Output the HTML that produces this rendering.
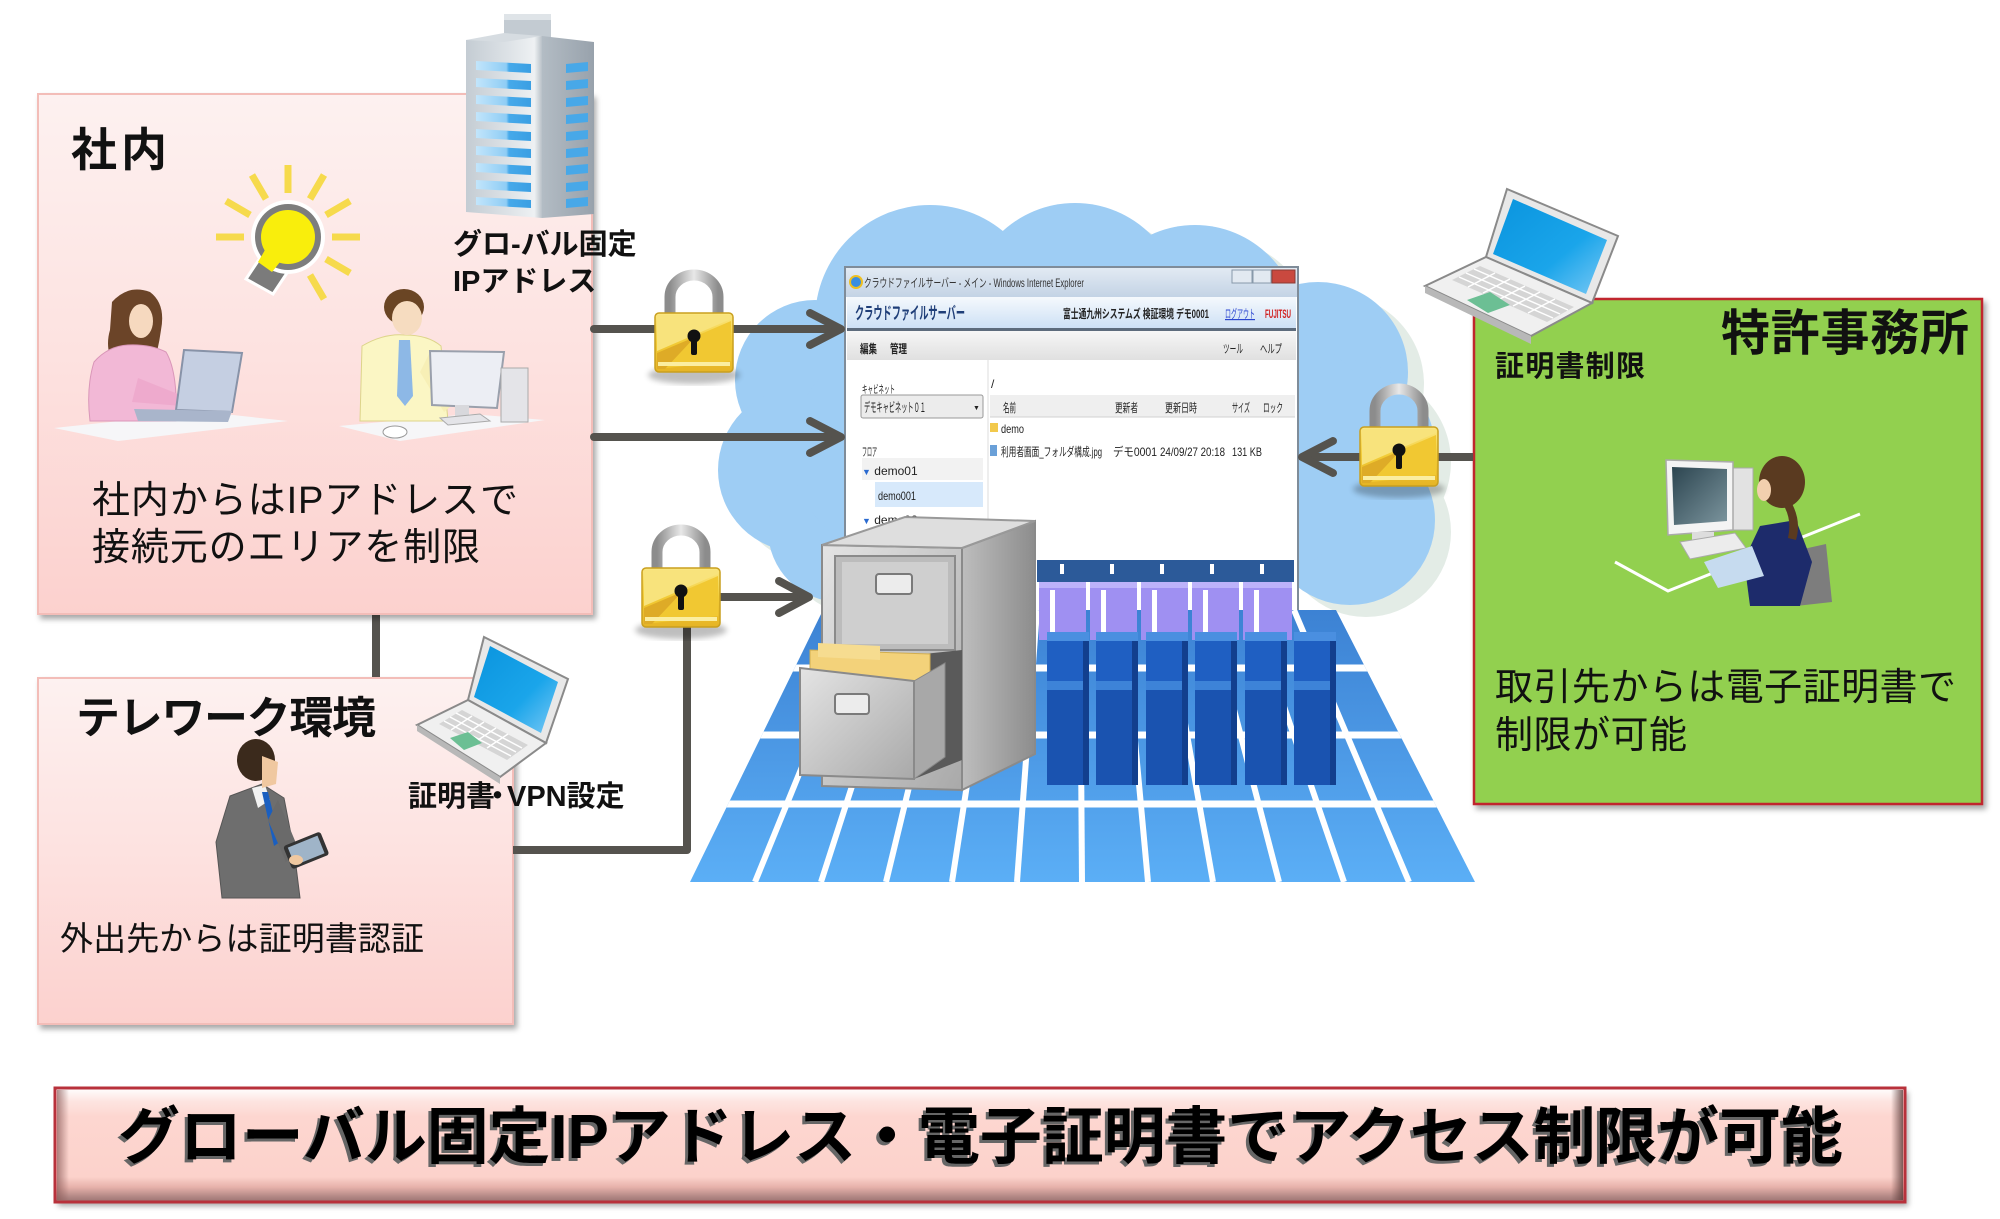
<!DOCTYPE html>
<html><head><meta charset="utf-8"><style>html,body{margin:0;padding:0;background:#fff}svg{display:block}</style></head>
<body>
<svg xmlns="http://www.w3.org/2000/svg" width="2000" height="1219" viewBox="0 0 2000 1219" font-family="'Liberation Sans','Noto Sans CJK JP',sans-serif">
<defs>
<linearGradient id="pink" x1="0" y1="0" x2="0" y2="1"><stop offset="0" stop-color="#fdf1f0"/><stop offset="0.5" stop-color="#fde2e0"/><stop offset="1" stop-color="#fcd1ce"/></linearGradient>
<filter id="sh" x="-5%" y="-5%" width="115%" height="115%"><feDropShadow dx="3" dy="4" stdDeviation="3" flood-color="#000" flood-opacity="0.35"/></filter>
<filter id="blur2"><feGaussianBlur stdDeviation="3"/></filter>
<linearGradient id="lockG" x1="0" y1="0" x2="0" y2="1"><stop offset="0" stop-color="#fbe884"/><stop offset="0.5" stop-color="#f2cb36"/><stop offset="1" stop-color="#e6b425"/></linearGradient>
<linearGradient id="shk" x1="0" y1="0" x2="1" y2="0"><stop offset="0" stop-color="#8c8c8c"/><stop offset="0.5" stop-color="#e8e8e8"/><stop offset="1" stop-color="#8c8c8c"/></linearGradient>
<linearGradient id="bldL" x1="0" y1="0" x2="1" y2="0"><stop offset="0" stop-color="#c4ccd3"/><stop offset="0.6" stop-color="#dfe4e8"/><stop offset="0.9" stop-color="#eef1f3"/><stop offset="1" stop-color="#b9c1c8"/></linearGradient>
<linearGradient id="bldR" x1="0" y1="0" x2="1" y2="0"><stop offset="0" stop-color="#b3bcc4"/><stop offset="1" stop-color="#98a2ac"/></linearGradient>
<linearGradient id="winG" x1="0" y1="0" x2="1" y2="0"><stop offset="0" stop-color="#c2e5fb"/><stop offset="0.55" stop-color="#8fcdf5"/><stop offset="0.6" stop-color="#46a9ea"/><stop offset="1" stop-color="#3a9fe3"/></linearGradient>
<linearGradient id="scr" x1="0" y1="0" x2="1" y2="1"><stop offset="0" stop-color="#0a94de"/><stop offset="0.6" stop-color="#1aa5ea"/><stop offset="1" stop-color="#7cc9f5"/></linearGradient>
<linearGradient id="titleG" x1="0" y1="0" x2="0" y2="1"><stop offset="0" stop-color="#e2eaf3"/><stop offset="1" stop-color="#c3d3e5"/></linearGradient>
<linearGradient id="hdrG" x1="0" y1="0" x2="0" y2="1"><stop offset="0" stop-color="#f5f9fd"/><stop offset="1" stop-color="#cde0f5"/></linearGradient>
<linearGradient id="menuG" x1="0" y1="0" x2="0" y2="1"><stop offset="0" stop-color="#f6f6f6"/><stop offset="1" stop-color="#e0e0e0"/></linearGradient>
<linearGradient id="floorG" x1="0" y1="0" x2="0" y2="1"><stop offset="0" stop-color="#3b80d2"/><stop offset="1" stop-color="#5cb0f7"/></linearGradient>
<linearGradient id="cabF" x1="0" y1="0" x2="1" y2="1"><stop offset="0" stop-color="#e4e4e4"/><stop offset="1" stop-color="#a9a9a9"/></linearGradient>
<linearGradient id="cabS" x1="0" y1="0" x2="1" y2="0"><stop offset="0" stop-color="#bdbdbd"/><stop offset="1" stop-color="#8d8d8d"/></linearGradient>
<linearGradient id="bnr" x1="0" y1="0" x2="0" y2="1"><stop offset="0" stop-color="#ffffff"/><stop offset="0.12" stop-color="#fde4e0"/><stop offset="0.25" stop-color="#fdd6d0"/><stop offset="0.78" stop-color="#fcd2cb"/><stop offset="0.87" stop-color="#e6b1aa"/><stop offset="0.95" stop-color="#b48986"/><stop offset="1" stop-color="#9a7270"/></linearGradient>
<linearGradient id="bnrL" x1="0" y1="0" x2="1" y2="0"><stop offset="0" stop-color="#8a5a58" stop-opacity="0.7"/><stop offset="1" stop-color="#8a5a58" stop-opacity="0"/></linearGradient>
<linearGradient id="bnrR" x1="1" y1="0" x2="0" y2="0"><stop offset="0" stop-color="#5a3a38" stop-opacity="0.8"/><stop offset="1" stop-color="#5a3a38" stop-opacity="0"/></linearGradient>
<linearGradient id="monG" x1="0" y1="0" x2="1" y2="1"><stop offset="0" stop-color="#2c4550"/><stop offset="1" stop-color="#7c959e"/></linearGradient>
<clipPath id="floorClip"><polygon points="823,610 1336,610 1475,882 690,882"/></clipPath>
<g id="lock">
<ellipse cx="39" cy="62" rx="46" ry="9" fill="#000" opacity="0.25" filter="url(#blur2)"/>
<path d="M15,4 V-16 A24,22 0 0 1 63,-16 V4" fill="none" stroke="url(#shk)" stroke-width="11"/>
<rect x="0" y="0" width="78" height="59" rx="4" fill="url(#lockG)" stroke="#c99f1e" stroke-width="1.5"/>
<polygon points="2,2 76,2 76,6 2,38" fill="#f8e37c"/>
<polygon points="2,40 76,8 76,48 2,56" fill="#f1c832"/>
<polygon points="2,40 40,24 10,56 2,56" fill="#deab27"/>
<rect x="3" y="49" width="72" height="4" fill="#fbeea0"/>
<circle cx="39" cy="23" r="6.5" fill="#111"/>
<rect x="36" y="25" width="6" height="17" rx="2" fill="#111"/>
</g>
<g id="cloudShape">
<circle cx="930" cy="320" r="115"/><circle cx="1075" cy="310" r="107"/><circle cx="1195" cy="330" r="105"/><circle cx="1318" cy="372" r="90"/><circle cx="1345" cy="450" r="90"/><circle cx="1350" cy="520" r="85"/><circle cx="815" cy="380" r="80"/><circle cx="800" cy="470" r="82"/><circle cx="840" cy="530" r="72"/><ellipse cx="1090" cy="450" rx="300" ry="165"/>
</g>
</defs>

<!-- vertical connector between boxes -->
<path d="M376,610 V682" stroke="#55534e" stroke-width="8" fill="none"/>

<!-- 社内 box -->
<rect x="38" y="94" width="554" height="520" fill="url(#pink)" stroke="#f3bdb8" stroke-width="2" filter="url(#sh)"/>
<!-- テレワーク box -->
<rect x="38" y="678" width="475" height="346" fill="url(#pink)" stroke="#f3bdb8" stroke-width="2" filter="url(#sh)"/>
<!-- 特許事務所 box -->
<rect x="1474" y="299" width="508" height="505" fill="#92d050" stroke="#c0272d" stroke-width="2.5" filter="url(#sh)"/>

<!-- building -->
<g>
<rect x="504" y="14" width="47" height="28" fill="#c3cbd2"/>
<rect x="504" y="14" width="47" height="6" fill="#dfe4e8"/>
<polygon points="466,40 542,36 542,218 466,212" fill="url(#bldL)"/>
<polygon points="542,36 594,42 594,214 542,218" fill="url(#bldR)"/>
<polygon points="466,40 504,33 542,36 504,42" fill="#d6dce1"/>
<g fill="url(#winG)">
<polygon points="476,61 531,64 531,73 476,70"/><polygon points="476,78 531,81 531,90 476,87"/><polygon points="476,95 531,98 531,107 476,104"/><polygon points="476,112 531,115 531,124 476,121"/><polygon points="476,129 531,132 531,141 476,138"/><polygon points="476,146 531,149 531,158 476,155"/><polygon points="476,163 531,166 531,175 476,172"/><polygon points="476,180 531,183 531,192 476,189"/><polygon points="476,197 531,200 531,208 476,205"/>
</g>
<g fill="#48a8e8">
<polygon points="566,64 588,62 588,71 566,73"/><polygon points="566,81 588,79 588,88 566,90"/><polygon points="566,98 588,96 588,105 566,107"/><polygon points="566,115 588,113 588,122 566,124"/><polygon points="566,132 588,130 588,139 566,141"/><polygon points="566,149 588,147 588,156 566,158"/><polygon points="566,166 588,164 588,173 566,175"/><polygon points="566,183 588,181 588,190 566,192"/><polygon points="566,199 588,197 588,206 566,208"/>
</g>
</g>

<!-- light bulb -->
<g stroke="#f6da4c" stroke-width="7" stroke-linecap="butt">
<line x1="288" y1="193" x2="288" y2="165"/><line x1="310" y1="199" x2="324" y2="175"/><line x1="326" y1="215" x2="350" y2="201"/><line x1="332" y1="237" x2="360" y2="237"/><line x1="326" y1="259" x2="350" y2="273"/><line x1="310" y1="275" x2="324" y2="299"/><line x1="266" y1="199" x2="252" y2="175"/><line x1="250" y1="215" x2="226" y2="201"/><line x1="244" y1="237" x2="216" y2="237"/>
</g>
<polygon points="246,279 262,255 289,270 273,294" fill="#7b7b7b" stroke="#fff" stroke-width="3"/>
<circle cx="288" cy="237" r="37" fill="#fff"/>
<circle cx="288" cy="237" r="33" fill="#7d7d7d"/>
<circle cx="288" cy="237" r="27" fill="#f9ee0c"/>
<polygon points="265,250 280,262 272,272 258,262" fill="#f9ee0c"/>

<!-- woman left -->
<g>
<polygon points="54,428 205,412 288,421 118,441" fill="#f6f6f8"/>
<path d="M112,302 Q128,284 150,292 Q166,304 161,330 Q158,352 152,368 L116,370 Q104,350 110,330 Z" fill="#6b4428"/>
<ellipse cx="141" cy="321" rx="12" ry="17" fill="#f6d9bf"/>
<path d="M94,362 Q108,346 128,345 Q150,344 166,352 Q178,372 176,421 L90,421 Q86,388 94,362 Z" fill="#f2b8d6" stroke="#d996b8" stroke-width="1"/>
<path d="M138,378 L178,394 L182,406 L132,402 Z" fill="#eeaacd"/>
<polygon points="184,350 242,353 232,412 176,410" fill="#c5cfe2" stroke="#8893a8" stroke-width="2"/>
<polygon points="134,409 232,411 228,422 138,421" fill="#a9b5cb"/>
</g>
<!-- man left -->
<g>
<polygon points="339,426 470,414 545,420 400,441" fill="#f6f6f8"/>
<ellipse cx="395" cy="432" rx="12" ry="6" fill="#fff" stroke="#999"/>
<path d="M362,346 Q384,333 405,335 Q428,335 441,346 L448,421 L360,421 Z" fill="#fbf6c4" stroke="#ddd48a" stroke-width="1"/>
<polygon points="399,340 410,340 413,396 405,406 397,396" fill="#8db8e6"/>
<ellipse cx="404" cy="307" rx="20" ry="18" fill="#6a4524"/>
<ellipse cx="407" cy="318" rx="15" ry="17" fill="#f6dcc0"/>
<path d="M430,352 L458,400 L444,412 L420,372 Z" fill="#f7efb6"/>
<polygon points="430,351 504,352 497,408 432,405" fill="#eceef4" stroke="#9aa0ac" stroke-width="2"/>
<rect x="455" y="405" width="14" height="12" fill="#d8d8dc"/>
<polygon points="440,418 480,414 490,421 448,425" fill="#e4e4e8" stroke="#aaa"/>
<rect x="501" y="368" width="27" height="54" fill="#e4e4e8" stroke="#aaa"/>
</g>

<!-- telework laptop -->
<g>
<polygon points="484,637 568,679 546,743 468,700" fill="#e8e8e8" stroke="#8a8a8a" stroke-width="2"/>
<polygon points="490,646 558,682 541,733 474,697" fill="url(#scr)"/>
<polygon points="468,700 546,743 500,777 417,725" fill="#f0f0f0" stroke="#8a8a8a" stroke-width="2"/>
<polygon points="417,725 500,777 500,784 417,731" fill="#b8b8b8"/>
<polygon points="462,710 528,745 507,760 439,724" fill="#d5d5d5"/>
<g stroke="#fff" stroke-width="1.5"><line x1="456" y1="713" x2="522" y2="748"/><line x1="450" y1="717" x2="516" y2="752"/><line x1="444" y1="721" x2="511" y2="756"/><line x1="472" y1="716" x2="451" y2="730"/><line x1="484" y1="722" x2="463" y2="736"/><line x1="496" y1="728" x2="475" y2="742"/><line x1="508" y1="734" x2="487" y2="748"/></g>
<polygon points="450,738 468,732 482,743 464,750" fill="#6cbf94"/>
</g>
<!-- right laptop -->
<g>
<polygon points="1507,189 1618,236 1592,303 1486,257" fill="#e8e8e8" stroke="#8a8a8a" stroke-width="2"/>
<polygon points="1513,199 1607,240 1586,294 1493,254" fill="url(#scr)"/>
<polygon points="1486,257 1592,303 1531,336 1425,286" fill="#f0f0f0" stroke="#8a8a8a" stroke-width="2"/>
<polygon points="1425,286 1531,336 1531,344 1425,293" fill="#b8b8b8"/>
<polygon points="1480,266 1574,307 1547,322 1452,280" fill="#d5d5d5"/>
<g stroke="#fff" stroke-width="1.5"><line x1="1474" y1="269" x2="1568" y2="310"/><line x1="1466" y1="273" x2="1560" y2="314"/><line x1="1459" y1="277" x2="1553" y2="318"/><line x1="1495" y1="273" x2="1468" y2="287"/><line x1="1510" y1="279" x2="1483" y2="293"/><line x1="1525" y1="286" x2="1498" y2="300"/><line x1="1540" y1="292" x2="1513" y2="306"/><line x1="1555" y1="299" x2="1528" y2="313"/></g>
<polygon points="1467,300 1490,292 1510,305 1488,313" fill="#6cbf94"/>
</g>

<!-- businessman with tablet -->
<g>
<path d="M230,796 L262,784 L284,798 L294,850 L300,898 L222,898 L216,842 Z" fill="#6e6e6e" stroke="#555" stroke-width="1"/>
<polygon points="252,788 265,785 270,800 258,808" fill="#f2f2f2"/>
<polygon points="262,792 268,792 280,842 274,846" fill="#1a5fc0"/>
<path d="M278,800 L298,848 L286,862 L268,820 Z" fill="#6a6a6a"/>
<ellipse cx="256" cy="760" rx="19" ry="21" fill="#3b2a1c"/>
<polygon points="262,756 278,762 276,784 262,788" fill="#f0c8a0"/>
<g transform="rotate(-22 306 850)"><rect x="286" y="838" width="40" height="25" rx="3" fill="#333"/><rect x="290" y="841" width="32" height="19" fill="#9fb4c8"/></g>
<ellipse cx="296" cy="860" rx="7" ry="5" fill="#f0c8a0"/>
</g>

<!-- woman at PC (right) -->
<g>
<polyline points="1615,562 1668,591 1860,514" fill="none" stroke="#fff" stroke-width="3"/>
<rect x="1733" y="468" width="20" height="62" fill="#e2e2e2" stroke="#aaa"/>
<polygon points="1666,460 1733,462 1733,530 1668,535" fill="#f4f4f4" stroke="#aaa" stroke-width="1.5"/>
<polygon points="1672,467 1727,469 1727,521 1674,525" fill="url(#monG)"/>
<rect x="1692" y="532" width="22" height="10" fill="#ddd"/>
<polygon points="1680,542 1735,533 1746,548 1690,559" fill="#ececec" stroke="#aaa"/>
<polygon points="1790,552 1826,544 1832,602 1796,606" fill="#7d7d7d"/>
<polygon points="1760,526 1796,520 1812,562 1800,606 1750,606 1744,560" fill="#1d2b6b"/>
<polygon points="1704,562 1752,546 1764,576 1718,588" fill="#c6dbef"/>
<ellipse cx="1782" cy="482" rx="23" ry="26" fill="#5a3a20"/>
<path d="M1790,500 Q1802,520 1796,540 L1788,538 Q1792,520 1784,506 Z" fill="#5a3a20"/>
<ellipse cx="1764" cy="490" rx="7" ry="11" fill="#f2cfae"/>
</g>

<!-- cloud -->
<use href="#cloudShape" fill="#e3ece6" transform="translate(16,12)"/>
<use href="#cloudShape" fill="#9ecdf4"/>

<!-- browser window -->
<g font-size="12" fill="#222">
<rect x="845" y="267" width="453" height="348" fill="#fff" stroke="#7f8c99" stroke-width="2"/>
<rect x="846" y="268" width="451" height="29" fill="url(#titleG)"/>
<circle cx="856" cy="282" r="6" fill="#3a8ee0" stroke="#f0c020" stroke-width="2"/>
<text x="864" y="287" font-size="12" fill="#333" textLength="220" lengthAdjust="spacingAndGlyphs">クラウドファイルサーバー - メイン - Windows Internet Explorer</text>
<rect x="1232" y="270" width="20" height="13" fill="#e2e9f1" stroke="#8899aa"/>
<rect x="1253" y="270" width="18" height="13" fill="#e2e9f1" stroke="#8899aa"/>
<rect x="1272" y="270" width="23" height="13" fill="#c9493f" stroke="#8a3a33"/>
<rect x="847" y="297" width="449" height="31" fill="url(#hdrG)"/>
<text x="855" y="319" font-size="17" font-weight="bold" fill="#1f3e78" textLength="110" lengthAdjust="spacingAndGlyphs">クラウドファイルサーバー</text>
<text x="1063" y="318" font-size="12" font-weight="bold" fill="#222" textLength="146" lengthAdjust="spacingAndGlyphs">富士通九州システムズ 検証環境 デモ0001</text>
<text x="1225" y="318" font-size="12" fill="#2a45d0" text-decoration="underline" textLength="30" lengthAdjust="spacingAndGlyphs">ログアウト</text>
<text x="1265" y="318" font-size="12" font-weight="bold" fill="#d02020" textLength="26" lengthAdjust="spacingAndGlyphs">FUJITSU</text>
<rect x="847" y="328" width="449" height="3" fill="#5d6b7c"/>
<rect x="847" y="331" width="449" height="29" fill="url(#menuG)"/>
<text x="860" y="353" font-weight="bold" textLength="17" lengthAdjust="spacingAndGlyphs">編集</text>
<text x="890" y="353" font-weight="bold" textLength="17" lengthAdjust="spacingAndGlyphs">管理</text>
<text x="1223" y="353" textLength="20" lengthAdjust="spacingAndGlyphs">ツール</text>
<text x="1260" y="353" textLength="22" lengthAdjust="spacingAndGlyphs">ヘルプ</text>
<line x1="988" y1="360" x2="988" y2="615" stroke="#dcdcdc"/>
<text x="862" y="393" font-size="11" textLength="33" lengthAdjust="spacingAndGlyphs">キャビネット</text>
<rect x="861" y="395" width="122" height="23" rx="2" fill="#ececec" stroke="#999"/>
<text x="864" y="412" font-size="13" textLength="62" lengthAdjust="spacingAndGlyphs">デモキャビネット０１</text>
<text x="973" y="410" font-size="7">▼</text>
<text x="862" y="456" textLength="15" lengthAdjust="spacingAndGlyphs">フロア</text>
<rect x="862" y="458" width="121" height="22" fill="#f2f2f2"/>
<text x="862" y="475"><tspan fill="#2a6ad0" font-size="9">▼</tspan> <tspan>demo01</tspan></text>
<rect x="875" y="482" width="108" height="25" fill="#d7e9fb"/>
<text x="878" y="500" textLength="38" lengthAdjust="spacingAndGlyphs">demo001</text>
<text x="862" y="524"><tspan fill="#2a6ad0" font-size="9">▼</tspan> demo02</text>
<text x="991" y="388">/</text>
<rect x="990" y="395" width="305" height="22" fill="#efefef"/>
<line x1="990" y1="417" x2="1295" y2="417" stroke="#d0d0d0"/>
<text x="1003" y="412" textLength="13" lengthAdjust="spacingAndGlyphs">名前</text>
<text x="1115" y="412" textLength="23" lengthAdjust="spacingAndGlyphs">更新者</text>
<text x="1165" y="412" textLength="32" lengthAdjust="spacingAndGlyphs">更新日時</text>
<text x="1232" y="412" textLength="18" lengthAdjust="spacingAndGlyphs">サイズ</text>
<text x="1263" y="412" textLength="20" lengthAdjust="spacingAndGlyphs">ロック</text>
<rect x="990" y="423" width="8" height="9" fill="#f2c94c"/>
<text x="1001" y="433" textLength="23" lengthAdjust="spacingAndGlyphs">demo</text>
<rect x="990" y="445" width="7" height="11" fill="#6aa0d8"/>
<text x="1001" y="456" textLength="101" lengthAdjust="spacingAndGlyphs">利用者画面_フォルダ構成.jpg</text>
<text x="1113" y="456" textLength="44" lengthAdjust="spacingAndGlyphs">デモ0001</text>
<text x="1160" y="456" textLength="65" lengthAdjust="spacingAndGlyphs">24/09/27 20:18</text>
<text x="1232" y="456" textLength="30" lengthAdjust="spacingAndGlyphs">131 KB</text>
</g>

<!-- floor -->
<g clip-path="url(#floorClip)">
<rect x="680" y="600" width="810" height="290" fill="url(#floorG)"/>
<g stroke="#fff" stroke-width="7">
<line x1="680" y1="804" x2="1490" y2="804"/><line x1="680" y1="735" x2="1490" y2="735"/><line x1="680" y1="668" x2="1490" y2="668"/>
</g>
<g stroke="#fff" stroke-width="6">
<line x1="866" y1="610" x2="755" y2="882"/><line x1="909" y1="610" x2="821" y2="882"/><line x1="952" y1="610" x2="886" y2="882"/><line x1="994" y1="610" x2="952" y2="882"/><line x1="1037" y1="610" x2="1017" y2="882"/><line x1="1080" y1="610" x2="1082" y2="882"/><line x1="1123" y1="610" x2="1148" y2="882"/><line x1="1165" y1="610" x2="1213" y2="882"/><line x1="1208" y1="610" x2="1279" y2="882"/><line x1="1251" y1="610" x2="1344" y2="882"/><line x1="1294" y1="610" x2="1409" y2="882"/>
</g>
</g>

<!-- racks back (purple) -->
<g>
<rect x="1037" y="560" width="257" height="22" fill="#2c5a99"/>
<g fill="#fff"><rect x="1060" y="564" width="4" height="10"/><rect x="1110" y="564" width="4" height="10"/><rect x="1160" y="564" width="4" height="10"/><rect x="1210" y="564" width="4" height="10"/><rect x="1260" y="564" width="4" height="10"/></g>
<g fill="#9f90f2"><rect x="1039" y="582" width="47" height="58"/><rect x="1090" y="582" width="47" height="58"/><rect x="1141" y="582" width="47" height="58"/><rect x="1192" y="582" width="47" height="58"/><rect x="1243" y="582" width="49" height="58"/></g>
<g fill="#bdb2fa"><rect x="1039" y="582" width="47" height="6"/><rect x="1090" y="582" width="47" height="6"/><rect x="1141" y="582" width="47" height="6"/><rect x="1192" y="582" width="47" height="6"/><rect x="1243" y="582" width="49" height="6"/></g>
<g fill="#fff"><rect x="1050" y="590" width="5" height="42"/><rect x="1101" y="590" width="5" height="42"/><rect x="1152" y="590" width="5" height="42"/><rect x="1203" y="590" width="5" height="42"/><rect x="1254" y="590" width="5" height="42"/></g>
</g>
<!-- blue racks -->
<g>
<g fill="#1f5fc2"><rect x="1047" y="640" width="42" height="105"/><rect x="1096" y="640" width="42" height="105"/><rect x="1146" y="640" width="42" height="105"/><rect x="1195" y="640" width="42" height="105"/><rect x="1245" y="640" width="42" height="105"/><rect x="1294" y="640" width="42" height="105"/></g>
<g fill="#4a8fe0"><rect x="1047" y="632" width="42" height="9"/><rect x="1096" y="632" width="42" height="9"/><rect x="1146" y="632" width="42" height="9"/><rect x="1195" y="632" width="42" height="9"/><rect x="1245" y="632" width="42" height="9"/><rect x="1294" y="632" width="42" height="9"/></g>
<g fill="#1a53b0"><rect x="1047" y="689" width="42" height="96"/><rect x="1096" y="689" width="42" height="96"/><rect x="1146" y="689" width="42" height="96"/><rect x="1195" y="689" width="42" height="96"/><rect x="1245" y="689" width="42" height="96"/><rect x="1294" y="689" width="42" height="96"/></g>
<g fill="#3d83d8"><rect x="1047" y="681" width="42" height="9"/><rect x="1096" y="681" width="42" height="9"/><rect x="1146" y="681" width="42" height="9"/><rect x="1195" y="681" width="42" height="9"/><rect x="1245" y="681" width="42" height="9"/><rect x="1294" y="681" width="42" height="9"/></g>
<g fill="#123f8e"><rect x="1083" y="641" width="6" height="144"/><rect x="1132" y="641" width="6" height="144"/><rect x="1182" y="641" width="6" height="144"/><rect x="1231" y="641" width="6" height="144"/><rect x="1281" y="641" width="6" height="144"/><rect x="1330" y="641" width="6" height="144"/></g>
</g>

<!-- file cabinet -->
<g>
<polygon points="822,545 962,548 962,790 822,786" fill="url(#cabF)" stroke="#8a8a8a" stroke-width="2"/>
<polygon points="962,548 1035,521 1035,754 962,790" fill="url(#cabS)" stroke="#8a8a8a" stroke-width="2"/>
<polygon points="822,545 905,517 1035,521 962,548" fill="#dedede" stroke="#999" stroke-width="2"/>
<rect x="835" y="556" width="120" height="94" fill="#bcbcbc" stroke="#8a8a8a" stroke-width="2"/>
<rect x="842" y="562" width="106" height="82" fill="#cfcfcf"/>
<rect x="876" y="574" width="36" height="20" rx="3" fill="#ececec" stroke="#7a7a7a" stroke-width="2"/>
<polygon points="914,655 962,650 962,760 914,779" fill="#5a5a5a"/>
<polygon points="810,650 930,654 930,688 810,684" fill="#f3d27a" stroke="#d2ae50"/>
<polygon points="818,643 880,646 880,660 818,657" fill="#f6dc90"/>
<polygon points="914,681 945,663 945,757 914,779" fill="#a8a8a8" stroke="#888"/>
<polygon points="800,668 914,681 914,779 800,775" fill="url(#cabF)" stroke="#8a8a8a" stroke-width="2"/>
<rect x="835" y="694" width="34" height="20" rx="3" fill="#ececec" stroke="#7a7a7a" stroke-width="2"/>
</g>

<!-- connectors -->
<g stroke="#55534e" stroke-width="8" fill="none" stroke-linecap="round" stroke-linejoin="round">
<path d="M594,329 H838"/><path d="M810,313 L841,329 L810,345"/>
<path d="M594,437 H838"/><path d="M810,421 L841,437 L810,453"/>
<path d="M513,850 H687 V627" stroke-linecap="butt"/>
<path d="M720,597 H806"/><path d="M779,581 L809,597 L779,613"/>
<path d="M1473,457 H1304" stroke-linecap="butt"/><path d="M1333,441 L1302,457 L1333,473"/>
</g>
<use href="#lock" x="655" y="313"/>
<use href="#lock" x="642" y="568"/>
<use href="#lock" x="1360" y="427"/>

<!-- texts -->
<g fill="#111">
<text x="71" y="166" font-size="46" font-weight="bold" textLength="96">社内</text>
<text x="453" y="254" font-size="29" font-weight="bold">グロ-バル固定</text>
<text x="453" y="291" font-size="29" font-weight="bold">IPアドレス</text>
<text x="92" y="513" font-size="38" textLength="426">社内からはIPアドレスで</text>
<text x="92" y="560" font-size="38" textLength="388">接続元のエリアを制限</text>
<text x="76" y="733" font-size="44" font-weight="bold" textLength="300">テレワーク環境</text>
<text x="408" y="806" font-size="29" font-weight="bold">証明書<tspan x="483">・</tspan><tspan x="507">VPN設定</tspan></text>
<text x="60" y="950" font-size="33" textLength="364">外出先からは証明書認証</text>
<text x="1721" y="350" font-size="49" font-weight="bold" textLength="248">特許事務所</text>
<text x="1495" y="376" font-size="29" font-weight="bold" textLength="150">証明書制限</text>
<text x="1495" y="700" font-size="38" textLength="461">取引先からは電子証明書で</text>
<text x="1495" y="748" font-size="38" textLength="192">制限が可能</text>
</g>

<!-- banner -->
<g>
<rect x="55" y="1088" width="1850" height="114" fill="url(#bnr)" filter="url(#sh)"/>
<rect x="57" y="1090" width="12" height="110" fill="url(#bnrL)"/>
<rect x="1891" y="1090" width="12" height="110" fill="url(#bnrR)"/>
<rect x="55" y="1088" width="1850" height="114" fill="none" stroke="#b8313b" stroke-width="3"/>
<text x="115" y="1161" font-size="62" font-weight="bold" fill="#666" textLength="1725">グローバル固定IPアドレス・電子証明書でアクセス制限が可能</text>
<text x="118" y="1158" font-size="62" font-weight="bold" fill="#000" textLength="1725">グローバル固定IPアドレス・電子証明書でアクセス制限が可能</text>
</g>
</svg>
</body></html>
